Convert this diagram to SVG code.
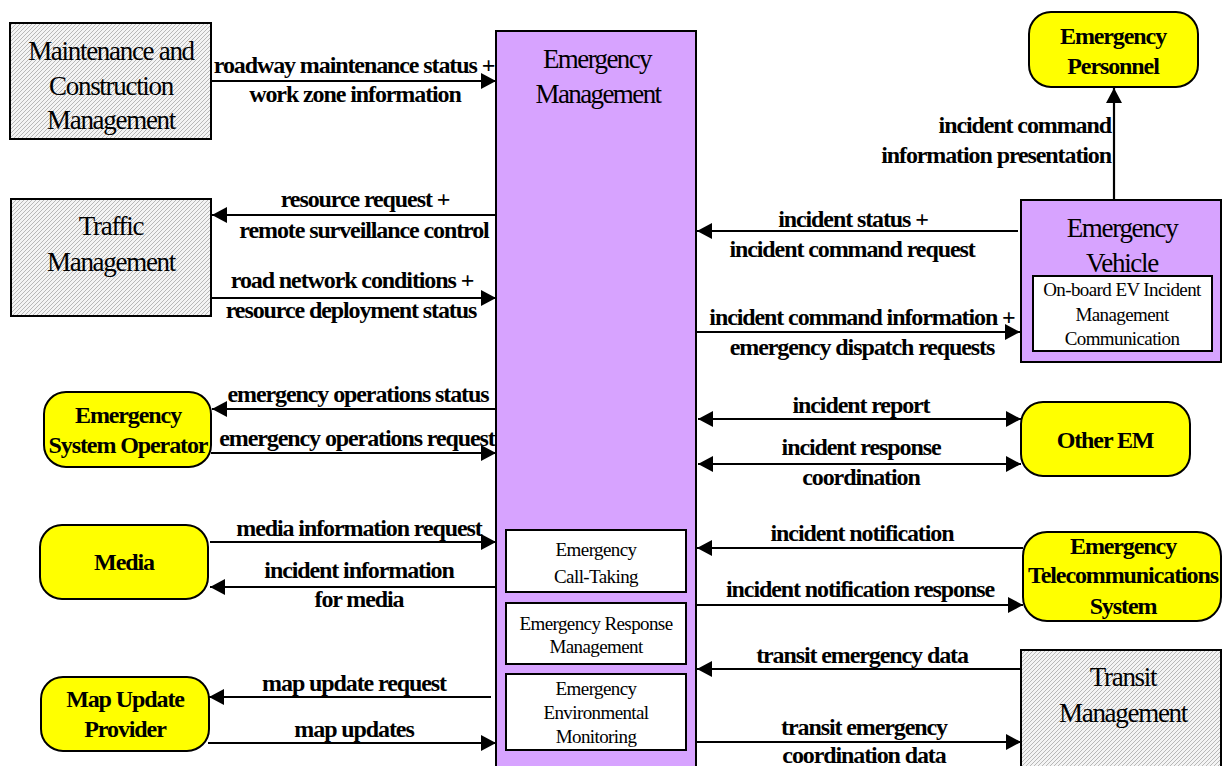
<svg xmlns="http://www.w3.org/2000/svg" width="1222" height="766" viewBox="0 0 1222 766">
<style>
.ext{fill:#FFFF00;stroke:#000;stroke-width:2}
.sub{fill:url(#hatch);stroke:#000;stroke-width:2}
.pur{fill:#D7A3FF;stroke:#000;stroke-width:2}
.inner{fill:#fff;stroke:#000;stroke-width:2}
.big{font-family:"Liberation Serif","Times New Roman",serif;font-size:27px;letter-spacing:-1.3px;text-anchor:middle;fill:#000}
.title{letter-spacing:-1.6px}
.bold{font-family:"Liberation Serif","Times New Roman",serif;font-size:24px;font-weight:bold;letter-spacing:-1.1px;text-anchor:middle;fill:#000}
.small{font-family:"Liberation Serif","Times New Roman",serif;font-size:19px;letter-spacing:-0.6px;text-anchor:middle;fill:#000}
.lbl{font-family:"Liberation Serif","Times New Roman",serif;font-size:24px;font-weight:bold;letter-spacing:-1.1px;text-anchor:middle;fill:#000}
.lblr{text-anchor:end}
.cn{stroke:#000;stroke-width:2.2;fill:none;marker-end:url(#ah)}
.cn2{stroke:#000;stroke-width:2.2;fill:none;marker-end:url(#ah);marker-start:url(#ah)}
</style>
<defs>
<pattern id="hatch" patternUnits="userSpaceOnUse" width="4" height="4">
<rect width="4" height="4" fill="#F4F4F4"/>
<path d="M-1,1 L1,-1 M0,4 L4,0 M3,5 L5,3" stroke="#B8B8B8" stroke-width="1"/>
</pattern>
<marker id="ah" markerUnits="userSpaceOnUse" markerWidth="16" markerHeight="16" refX="15" refY="8" orient="auto-start-reverse" viewBox="0 0 16 16">
<path d="M0,0 L15,8 L0,16 z" fill="#000"/>
</marker>
</defs>
<rect width="1222" height="766" fill="#fff"/>

<g id="emergency-management">
<rect class="pur" x="496" y="31" width="200" height="760"/>
<text class="big title" x="597" y="68">Emergency</text>
<text class="big title" x="598" y="103">Management</text>
</g>
<g id="emergency-call-taking">
<rect class="inner" x="506" y="530" width="180" height="62"/>
<text class="small" x="596" y="556">Emergency</text>
<text class="small" x="596" y="583">Call-Taking</text>
</g>
<g id="emergency-response-management">
<rect class="inner" x="506" y="603" width="180" height="61"/>
<text class="small" x="596" y="630">Emergency Response</text>
<text class="small" x="596" y="653">Management</text>
</g>
<g id="emergency-environmental-monitoring">
<rect class="inner" x="506" y="674" width="180" height="76"/>
<text class="small" x="596" y="695">Emergency</text>
<text class="small" x="596" y="719">Environmental</text>
<text class="small" x="596" y="743">Monitoring</text>
</g>

<g id="maintenance-construction-management">
<rect class="sub" x="10" y="23" width="201" height="116"/>
<text class="big" x="111" y="60">Maintenance and</text>
<text class="big" x="111" y="95">Construction</text>
<text class="big" x="111" y="129">Management</text>
</g>
<g id="traffic-management">
<rect class="sub" x="11" y="199" width="200" height="117"/>
<text class="big" x="111" y="235">Traffic</text>
<text class="big" x="111" y="271">Management</text>
</g>
<g id="emergency-system-operator">
<rect class="ext" x="44" y="392" width="167" height="75" rx="22"/>
<text class="bold" x="128" y="423">Emergency</text>
<text class="bold" x="128" y="453">System Operator</text>
</g>
<g id="media">
<rect class="ext" x="40" y="525" width="168" height="74" rx="22"/>
<text class="bold" x="124" y="570">Media</text>
</g>
<g id="map-update-provider">
<rect class="ext" x="41" y="677" width="168" height="74" rx="22"/>
<text class="bold" x="125" y="707">Map Update</text>
<text class="bold" x="125" y="737">Provider</text>
</g>
<g id="emergency-personnel">
<rect class="ext" x="1029" y="12" width="169" height="75" rx="22"/>
<text class="bold" x="1113" y="44">Emergency</text>
<text class="bold" x="1113" y="74">Personnel</text>
</g>
<g id="emergency-vehicle">
<rect class="pur" x="1021" y="200" width="200" height="162"/>
<text class="big" x="1122" y="237">Emergency</text>
<text class="big" x="1122" y="272">Vehicle</text>
<rect class="inner" x="1033" y="276" width="179" height="75"/>
<text class="small" x="1122" y="296">On-board EV Incident</text>
<text class="small" x="1122" y="321">Management</text>
<text class="small" x="1122" y="345">Communication</text>
</g>
<g id="other-em">
<rect class="ext" x="1021" y="402" width="169" height="74" rx="22"/>
<text class="bold" x="1105" y="448">Other EM</text>
</g>
<g id="emergency-telecommunications-system">
<rect class="ext" x="1023" y="532" width="198" height="89" rx="24"/>
<text class="bold" x="1123" y="554">Emergency</text>
<text class="bold" x="1123" y="583">Telecommunications</text>
<text class="bold" x="1123" y="614">System</text>
</g>
<g id="transit-management">
<rect class="sub" x="1021" y="650" width="200" height="130"/>
<text class="big" x="1123" y="686">Transit</text>
<text class="big" x="1123" y="722">Management</text>
</g>

<g id="connectors">
<line class="cn" x1="211" y1="81" x2="496" y2="81"/>
<line class="cn" x1="496" y1="215" x2="212" y2="215"/>
<line class="cn" x1="211" y1="298" x2="496" y2="298"/>
<line class="cn" x1="496" y1="409" x2="212" y2="409"/>
<line class="cn" x1="211" y1="453" x2="496" y2="453"/>
<line class="cn" x1="210" y1="542" x2="496" y2="542"/>
<line class="cn" x1="496" y1="587" x2="210" y2="587"/>
<line class="cn" x1="491" y1="697" x2="209" y2="697"/>
<line class="cn" x1="208" y1="743" x2="496" y2="743"/>
<line class="cn" x1="1114" y1="200" x2="1114" y2="88"/>
<line class="cn" x1="1018" y1="231" x2="697" y2="231"/>
<line class="cn" x1="696" y1="332" x2="1020" y2="332"/>
<line class="cn2" x1="698" y1="419" x2="1021" y2="419"/>
<line class="cn2" x1="698" y1="464" x2="1021" y2="464"/>
<line class="cn" x1="1023" y1="548" x2="697" y2="548"/>
<line class="cn" x1="696" y1="605" x2="1023" y2="605"/>
<line class="cn" x1="1021" y1="669" x2="697" y2="669"/>
<line class="cn" x1="696" y1="742" x2="1021" y2="742"/>

<text class="lbl" x="354" y="73">roadway maintenance status +</text>
<text class="lbl" x="355" y="102">work zone information</text>
<text class="lbl" x="365" y="207">resource request +</text>
<text class="lbl" x="364" y="238">remote surveillance control</text>
<text class="lbl" x="352" y="288">road network conditions +</text>
<text class="lbl" x="351" y="318">resource deployment status</text>
<text class="lbl" x="358" y="402">emergency operations status</text>
<text class="lbl" x="357" y="446">emergency operations request</text>
<text class="lbl" x="359" y="536">media information request</text>
<text class="lbl" x="359" y="578">incident information</text>
<text class="lbl" x="359" y="607">for media</text>
<text class="lbl" x="354" y="691">map update request</text>
<text class="lbl" x="354" y="737">map updates</text>
<text class="lbl lblr" x="1111" y="133">incident command</text>
<text class="lbl lblr" x="1111" y="163">information presentation</text>
<text class="lbl" x="853" y="227">incident status +</text>
<text class="lbl" x="852" y="257">incident command request</text>
<text class="lbl" x="862" y="325">incident command information +</text>
<text class="lbl" x="862" y="355">emergency dispatch requests</text>
<text class="lbl" x="861" y="413">incident report</text>
<text class="lbl" x="861" y="455">incident response</text>
<text class="lbl" x="861" y="485">coordination</text>
<text class="lbl" x="862" y="541">incident notification</text>
<text class="lbl" x="860" y="597">incident notification response</text>
<text class="lbl" x="862" y="663">transit emergency data</text>
<text class="lbl" x="864" y="735">transit emergency</text>
<text class="lbl" x="864" y="763">coordination data</text>
</g>
</svg>
